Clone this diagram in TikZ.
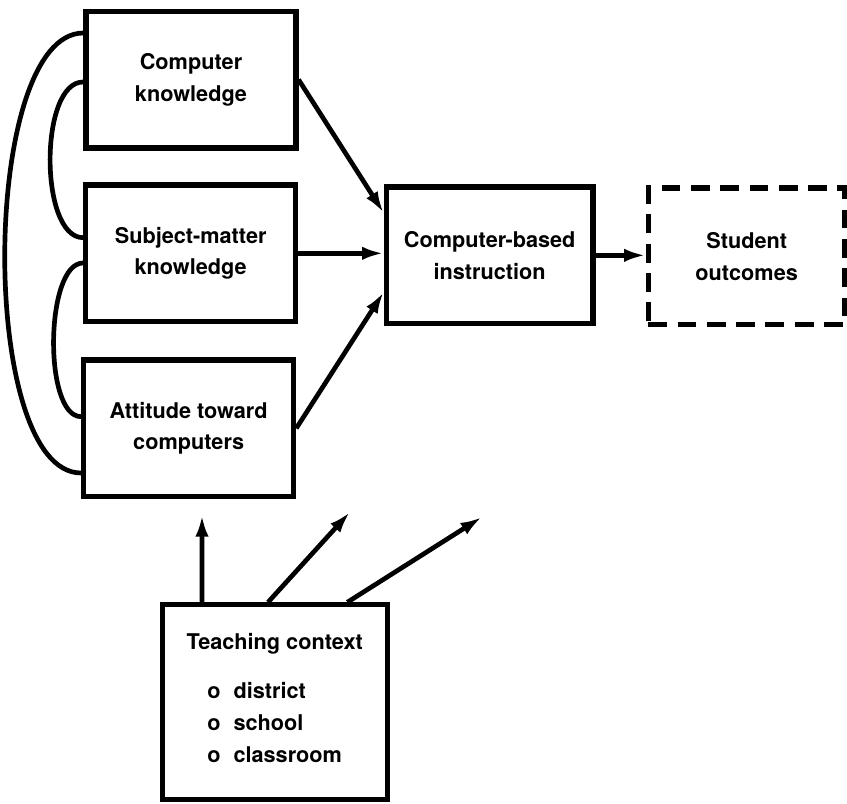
\documentclass[tikz,border=0pt]{standalone}
\usepackage{fontspec}
\setmainfont{TeX Gyre Heros}
\usetikzlibrary{arrows.meta,positioning}
\begin{document}
\begin{tikzpicture}[every node/.style={font=\fontsize{18.5}{27}\selectfont\bfseries}]
\tikzstyle{blk}=[draw, line width=4.4pt, minimum width=6.3cm, minimum height=4.1cm, align=center]
\tikzstyle{conn}=[line width=4pt, -{Latex[length=0.65cm,width=0.4cm]}]
\tikzstyle{link}=[line width=4pt]
\useasboundingbox (0,0) rectangle (25.41,24.09);
\node[blk] (ck) at (5.73,21.7) {Computer\\knowledge};
\node[blk] (smk) at (5.72,16.49) {Subject-matter\\knowledge};
\node[blk] (att) at (5.66,11.24) {Attitude toward\\computers};
\node[blk, minimum width=6.2cm] (cbi) at (14.69,16.43) {Computer-based\\instruction};
\node[blk, dash pattern=on 16pt off 9pt, minimum width=5.9cm] (so) at (22.4,16.4) {Student\\outcomes};
\node[blk, minimum width=6.75cm, minimum height=5.85cm] (tc) at (8.24,3.02)
  {Teaching context\\[0.65cm]\begin{tabular}{@{}l@{}}o\hspace{0.6em}district\\o\hspace{0.6em}school\\o\hspace{0.6em}classroom\end{tabular}};
% free ends of the context arrows
\coordinate (p1) at (6.06,8.64);
\coordinate (p2) at (10.5,8.73);
\coordinate (p3) at (14.46,8.58);
% links between the teacher variables
\draw[link] ([yshift=1.4cm]ck.west) .. controls +(-3.1,0) and +(-3.1,0) .. ([yshift=-1.34cm]att.west);
\draw[link] ([yshift=-0.07cm]smk.west |- ck.west) .. controls +(-1.32,0) and +(-1.32,0) .. ([yshift=0.47cm]smk.west);
\draw[link] ([yshift=-0.29cm]smk.west) .. controls +(-1.14,0) and +(-1.14,0) .. ([yshift=0.35cm]att.west);
\draw[conn] (ck.east) -- ([yshift=1.27cm]cbi.west);
\draw[conn] (smk.east) -- (smk.east -| cbi.west);
\draw[conn] (att.east) -- ([yshift=-1.1cm]cbi.west);
\draw[conn] (cbi.east) -- (cbi.east -| so.west);
\draw[conn] ([xshift=-2.18cm]tc.north) -- (p1);
\draw[conn] ([xshift=-0.2cm]tc.north) -- (p2);
\draw[conn] ([xshift=2.18cm]tc.north) -- (p3);
\end{tikzpicture}
\end{document}
